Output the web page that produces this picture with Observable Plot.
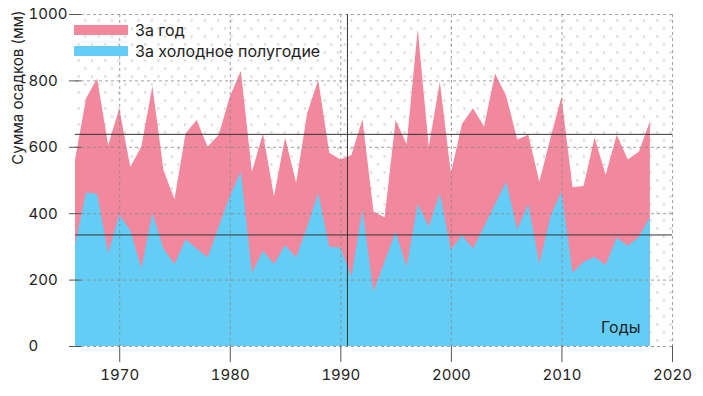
<!DOCTYPE html>
<html>
<head>
<meta charset="utf-8">
<script src="https://cdn.jsdelivr.net/npm/d3@7"></script>
<script src="https://cdn.jsdelivr.net/npm/@observablehq/plot@0.6"></script>
<style>
  html, body { margin: 0; padding: 0; background: #fff; }
  #wrap { position: relative; width: 703px; height: 396px; font-family: Inter, "Noto Sans", sans-serif; color: #222; }
  .legend { position: absolute; left: 74px; font-size: 16px; display: flex; align-items: center; }
  .sw { display: inline-block; width: 54px; height: 10px; margin-right: 7px; }
</style>
</head>
<body>
<div id="wrap"></div>
<script>
const years = d3.range(1966, 2019);
const annual = [560,746,806,605,716,540,600,783,530,442,640,681,600,636,751,829,525,640,450,628,492,701,801,582,562,575,683,405,388,681,608,954,600,796,520,669,716,661,821,753,622,636,495,625,751,478,482,628,515,636,562,585,676];
const cold   = [304,462,458,279,395,349,234,400,294,246,321,294,267,359,450,525,221,287,247,304,267,359,460,299,297,209,410,164,254,344,239,428,359,460,289,334,294,359,428,495,351,428,247,389,465,221,254,269,244,327,301,329,388];
const meanAnnual = 639;
const meanCold = 336;
const breakYear = 1990.6;
const xTicks = [1970, 1980, 1990, 2000, 2010, 2020];
const yTicks = [0, 200, 400, 600, 800, 1000];
const seriesNames = ["За год", "За холодное полугодие"];
const colors = ["#f2889e", "#63cdf5"];
const yLabel = "Сумма осадков (мм)";
const xLabel = "Годы";

const data = years.map((y, i) => ({year: y, annual: annual[i], cold: cold[i]}));

const chart = Plot.plot({
  width: 703,
  height: 396,
  marginLeft: 75,
  marginRight: 31,
  marginTop: 14,
  marginBottom: 50,
  style: {fontFamily: "Inter, 'Noto Sans', sans-serif", fontSize: "15px", color: "#222", background: "#fff"},
  x: {domain: [1966, 2020]},
  y: {domain: [0, 1000]},
  marks: [
    Plot.frame({fill: "url(#dots)", stroke: "none"}),
    Plot.areaY(data, {x: "year", y: "annual", fill: colors[0]}),
    Plot.areaY(data, {x: "year", y: "cold", fill: colors[1]}),
    Plot.gridX(xTicks, {stroke: "#888", strokeOpacity: 0.8, strokeDasharray: "3,3"}),
    Plot.gridY(yTicks, {stroke: "#888", strokeOpacity: 0.8, strokeDasharray: "3,3"}),
    Plot.ruleY([meanAnnual, meanCold], {stroke: "#333", strokeWidth: 1}),
    Plot.ruleX([breakYear], {stroke: "#333", strokeWidth: 1}),
    Plot.axisX({ticks: xTicks, tickFormat: d => String(d), tickSize: 16, tickPadding: 7, stroke: "#555", label: null, fontSize: 15}),
    Plot.axisY({ticks: yTicks, tickFormat: d => String(d), tickSize: 12, dx: 6, tickPadding: 41, textAnchor: "start", stroke: "#555", label: null, fontSize: 15}),
    Plot.text([yLabel], {frameAnchor: "top-left", text: d => d, rotate: -90, textAnchor: "end", dx: -63, dy: -4, fontSize: 15, fill: "#222"}),
    Plot.text([xLabel], {frameAnchor: "bottom-right", text: d => d, textAnchor: "end", dx: -32, dy: -14, fontSize: 16, fill: "#222"})
  ]
});

const ns = "http://www.w3.org/2000/svg";
const defs = document.createElementNS(ns, "defs");
const pat = document.createElementNS(ns, "pattern");
pat.setAttribute("id", "dots");
pat.setAttribute("patternUnits", "userSpaceOnUse");
pat.setAttribute("width", "13.3");
pat.setAttribute("height", "16");
pat.setAttribute("x", "2");
pat.setAttribute("y", "0");
[[3, 4], [9.65, 12]].forEach(([cx, cy]) => {
  const c = document.createElementNS(ns, "circle");
  c.setAttribute("cx", cx); c.setAttribute("cy", cy); c.setAttribute("r", "1.3");
  c.setAttribute("fill", "#d6d6d6");
  pat.appendChild(c);
});
defs.appendChild(pat);
chart.insertBefore(defs, chart.firstChild);

const wrap = document.getElementById("wrap");
wrap.appendChild(chart);
seriesNames.forEach((name, i) => {
  const div = document.createElement("div");
  div.className = "legend";
  div.style.top = (i === 0 ? 20 : 41) + "px";
  div.innerHTML = `<span class="sw" style="background:${colors[i]}"></span><span>${name}</span>`;
  wrap.appendChild(div);
});
</script>
</body>
</html>
